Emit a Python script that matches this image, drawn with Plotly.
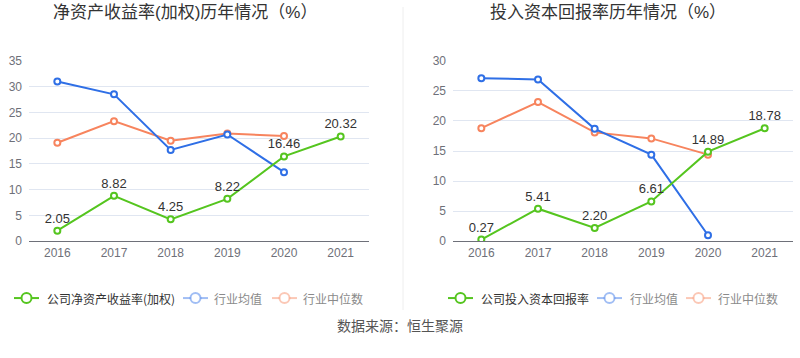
import plotly.graph_objects as go

W, H = 800, 358

years = ["2016", "2017", "2018", "2019", "2020", "2021"]

# Left chart: ROE (weighted)
roe_company = [2.05, 8.82, 4.25, 8.22, 16.46, 20.32]
roe_ind_mean = [31.0, 28.5, 17.7, 20.7, 13.4]
roe_ind_median = [19.1, 23.3, 19.5, 20.9, 20.4]

# Right chart: ROIC
roic_company = [0.27, 5.41, 2.20, 6.61, 14.89, 18.78]
roic_ind_mean = [27.1, 26.9, 18.7, 14.4, 1.0]
roic_ind_median = [18.8, 23.15, 18.1, 17.1, 14.4]

titles = ["净资产收益率(加权)历年情况（%）", "投入资本回报率历年情况（%）"]
legend_left = ["公司净资产收益率(加权)", "行业均值", "行业中位数"]
legend_right = ["公司投入资本回报率", "行业均值", "行业中位数"]
source_text = "数据来源：恒生聚源"

GREEN = "#55c51f"
BLUE = "#2f6fe6"
ORANGE = "#f7845e"
BLUE_F = "rgba(47,111,230,0.45)"
ORANGE_F = "rgba(247,132,94,0.45)"
FONT = "Liberation Sans, Noto Sans CJK SC, sans-serif"
CJK = "Noto Sans CJK SC, sans-serif"

# vertical compensation for the capture (observed: y_out = 6 + 0.964 * y_layout)
VOFF, VSCALE = 6.0, 0.964


def px(x):
    return x / W


def py(y):
    yl = (y - VOFF) / VSCALE
    return 1 - yl / H


fig = go.Figure()


def add_series(xa, ya, comp, mean, med):
    common = dict(xaxis=xa, yaxis=ya, mode="lines+markers", showlegend=False,
                  hoverinfo="skip")
    fig.add_trace(go.Scatter(x=years[:len(med)], y=med,
                             line=dict(color=ORANGE, width=2),
                             marker=dict(symbol="circle", size=6, color="white",
                                         line=dict(color=ORANGE, width=2)), **common))
    fig.add_trace(go.Scatter(x=years[:len(mean)], y=mean,
                             line=dict(color=BLUE, width=2),
                             marker=dict(symbol="circle", size=6, color="white",
                                         line=dict(color=BLUE, width=2)), **common))
    fig.add_trace(go.Scatter(x=years, y=comp,
                             line=dict(color=GREEN, width=2),
                             marker=dict(symbol="circle", size=6, color="white",
                                         line=dict(color=GREEN, width=2)),
                             text=[f"{v:.2f}" for v in comp],
                             textposition="top center",
                             textfont=dict(family=FONT, size=13, color="#333333"),
                             xaxis=xa, yaxis=ya, mode="lines+markers+text",
                             showlegend=False, hoverinfo="skip"))


add_series("x", "y", roe_company, roe_ind_mean, roe_ind_median)
add_series("x2", "y2", roic_company, roic_ind_mean, roic_ind_median)

ydom = [py(241), py(60)]
xaxis_common = dict(type="category", range=[-0.5, 5.5], showgrid=False,
                    showline=True, linecolor="#6e7079", linewidth=1,
                    ticks="", tickfont=dict(family=FONT, size=12, color="#6e7079"),
                    zeroline=False, fixedrange=True)
yaxis_common = dict(showgrid=True, gridcolor="#e0e6f1", gridwidth=1, zeroline=False,
                    showline=False, dtick=5, ticks="", ticklabelstandoff=6,
                    tickfont=dict(family=FONT, size=12, color="#6e7079"),
                    fixedrange=True)

shapes = []
annotations = []

for i, t in enumerate(titles):
    annotations.append(dict(text=t, x=px([185, 608][i]), y=py(12), xref="paper",
                            yref="paper", showarrow=False, xanchor="center",
                            yanchor="middle",
                            font=dict(family=FONT, size=17, color="#333333")))

# Divider
shapes.append(dict(type="line", xref="paper", yref="paper", x0=px(403), x1=px(403),
                   y0=1, y1=py(310), line=dict(color="#eeeeee", width=1)))

# Legends
LY = 298
legend_items = [
    (14, 45, GREEN, legend_left[0], "#333333"),
    (183, 212, BLUE_F, legend_left[1], "#8a8a8a"),
    (272, 301, ORANGE_F, legend_left[2], "#8a8a8a"),
    (448, 479, GREEN, legend_right[0], "#333333"),
    (597, 628, BLUE_F, legend_right[1], "#8a8a8a"),
    (686, 716, ORANGE_F, legend_right[2], "#8a8a8a"),
]
for x0, tx, col, label, tcol in legend_items:
    shapes.append(dict(type="line", xref="paper", yref="paper", x0=px(x0),
                       x1=px(x0 + 25), y0=py(LY), y1=py(LY),
                       line=dict(color=col, width=2)))
    cx = x0 + 12.5
    shapes.append(dict(type="circle", xref="paper", yref="paper",
                       x0=px(cx - 5), x1=px(cx + 5), y0=py(LY + 5), y1=py(LY - 5),
                       fillcolor="white", line=dict(color=col, width=2)))
    annotations.append(dict(text=label, x=px(tx), y=py(LY), xref="paper",
                            yref="paper", showarrow=False, xanchor="left",
                            yanchor="middle",
                            font=dict(family=CJK, size=12, color=tcol)))

annotations.append(dict(text=source_text, x=px(400), y=py(325), xref="paper",
                        yref="paper", showarrow=False, xanchor="center",
                        yanchor="middle", font=dict(family=CJK, size=14, color="#555555")))

fig.update_layout(
    width=W, height=H, margin=dict(l=0, r=0, t=0, b=0),
    paper_bgcolor="white", plot_bgcolor="white", showlegend=False,
    xaxis=dict(domain=[px(29), px(369)], anchor="y", **xaxis_common),
    xaxis2=dict(domain=[px(453), px(793)], anchor="y2", **xaxis_common),
    yaxis=dict(domain=ydom, range=[0, 35], anchor="x", **yaxis_common),
    yaxis2=dict(domain=ydom, range=[0, 30], anchor="x2", **yaxis_common),
    shapes=shapes, annotations=annotations,
)

fig.write_html("out.html", config={"displayModeBar": False},
               post_script="document.body.style.margin='0';document.body.style.overflow='hidden';document.documentElement.style.overflow='hidden';")
